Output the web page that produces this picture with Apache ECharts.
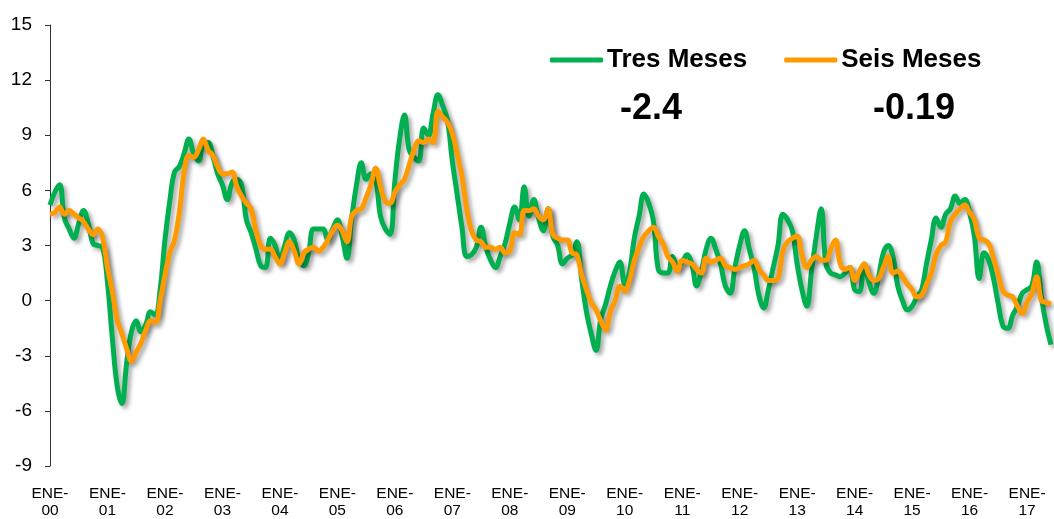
<!DOCTYPE html>
<html>
<head>
<meta charset="utf-8">
<script src="https://cdn.jsdelivr.net/npm/echarts@6/dist/echarts.min.js"></script>
<style>
html,body{margin:0;padding:0;background:#fff;}
#c{width:1054px;height:519px;}
</style>
</head>
<body>
<div id="c"></div>
<script>
var monthNames = ['ENE','FEB','MAR','ABR','MAY','JUN','JUL','AGO','SEP','OCT','NOV','DIC'];
var years = ['00','01','02','03','04','05','06','07','08','09','10','11','12','13','14','15','16','17'];
var lastMonthCount = 6; // ENE-17 .. JUN-17

var tresMeses = [
  5.2, 5.9, 6.3, 4.5, 3.9, 3.4, 4.2, 4.9, 4.2, 3.1, 3.0, 2.9,
  1.0, -2.0, -4.6, -5.6, -3.4, -1.7, -1.1, -1.7, -1.3, -0.6, -0.8, 0.6,
  3.3, 5.4, 7.0, 7.3, 8.0, 8.8, 8.0, 7.6, 8.5, 8.6, 7.9, 6.9,
  6.3, 5.5, 6.4, 6.6, 6.3, 4.4, 3.7, 2.8, 1.9, 1.8, 3.4, 3.0,
  2.2, 3.0, 3.7, 3.3, 2.2, 1.9, 2.6, 3.9, 3.9, 3.9, 3.3, 3.9,
  4.4, 3.5, 2.3, 4.5, 6.3, 7.5, 6.6, 6.9, 6.6, 4.6, 3.9, 3.6,
  6.5, 8.8, 10.1, 8.2, 7.8, 7.6, 9.4, 9.0, 10.2, 11.2, 10.6, 9.8,
  7.6, 5.8, 4.0, 2.4, 2.5, 2.9, 4.0, 2.9, 2.2, 1.8, 2.4, 3.1,
  4.2, 5.1, 4.4, 6.2, 4.6, 5.5, 4.5, 3.8, 5.0, 3.5, 3.0, 2.0,
  2.3, 2.5, 3.2, 1.2, -0.6, -1.8, -2.7, -1.0, -0.2, 0.8, 1.6, 2.1,
  0.9, 1.6, 3.4, 4.6, 5.8, 5.3, 4.3, 1.7, 1.5, 1.5, 2.4, 1.8,
  2.1, 2.5, 2.0, 0.8, 1.6, 2.8, 3.4, 2.8, 2.0, 0.8, 0.4, 1.8,
  3.0, 3.8, 2.8, 1.8, 0.3, -0.4, 0.6, 1.8, 3.0, 4.7, 4.4, 3.8,
  2.0, 0.6, -0.3, 1.6, 3.5, 5.0, 2.0, 1.5, 1.4, 1.3, 1.5, 1.8,
  0.6, 0.5, 2.0, 1.0, 0.4, 1.3, 2.6, 3.0, 2.4, 0.8, 0.0, -0.5,
  -0.3, 0.2, 0.6, 2.0, 3.3, 4.5, 4.0, 4.7, 5.0, 5.7, 5.3, 5.5,
  4.8, 3.5, 1.2, 2.6, 2.2, 1.2, -0.2, -1.4, -1.5, -0.8, -0.3, 0.4,
  0.6, 0.8, 2.1, 0.2, -1.3, -2.4
];

var seisMeses = [
  4.7, 4.8, 5.1, 4.7, 4.9, 4.7, 4.5, 4.3, 3.9, 3.6, 3.9, 3.4,
  1.8, 0.5, -1.0, -1.8, -2.6, -3.3, -2.8, -2.3, -1.6, -1.1, -1.2, 0.0,
  1.4, 2.6, 3.3, 4.8, 7.0, 7.9, 7.8, 8.2, 8.8, 8.2, 7.9, 7.3,
  6.9, 6.9, 7.0, 6.2, 5.7, 5.3, 5.0, 3.8, 3.0, 2.8, 2.8, 2.4,
  2.0, 2.6, 3.2, 2.7, 2.0, 2.6, 2.8, 2.9, 2.7, 2.9, 3.3, 3.8,
  4.1, 3.8, 3.2, 4.6, 4.9, 5.0, 5.6, 6.3, 7.2, 6.2, 5.4, 5.3,
  5.9, 6.3, 6.6, 7.4, 8.2, 8.7, 8.6, 8.8, 8.6, 10.3, 10.0, 9.7,
  9.1, 8.0, 6.8, 5.0, 3.8, 3.3, 3.2, 2.9, 2.9, 2.8, 2.9, 2.6,
  2.7, 3.7, 3.6, 4.9, 4.9, 5.0, 4.6, 4.4, 5.0, 3.6, 3.4, 3.3,
  3.3, 2.6, 2.5, 1.4, 0.6, -0.1, -0.5, -1.1, -1.6, -0.6, 0.0, 0.8,
  0.5, 1.1, 2.2, 2.9, 3.5, 3.8, 4.0, 3.5, 3.1, 2.4, 2.1, 1.6,
  2.2, 2.1, 2.0, 1.7, 1.5, 2.3, 2.1, 2.2, 2.3, 1.9, 1.8, 1.7,
  1.8, 1.9, 2.0, 2.2, 1.7, 1.4, 1.1, 1.1, 1.2, 2.7, 3.2, 3.4,
  3.5, 2.5, 1.8, 2.2, 2.4, 2.2, 2.2, 2.8, 3.3, 2.0, 1.7, 1.8,
  1.1, 1.6, 2.0, 1.4, 1.1, 1.2, 1.8, 2.4, 1.5, 1.6, 1.3, 0.9,
  0.6, 0.2, 0.3, 0.9, 1.5, 2.5, 3.0, 3.2, 4.3, 4.7, 5.0, 5.2,
  4.8, 4.4, 3.4, 3.3, 3.1, 2.3, 1.4, 0.5, 0.3, 0.2, -0.3, -0.7,
  -0.1, 0.4, 1.3, 0.0, -0.1, -0.19
];

var seriesNames = ['Tres Meses', 'Seis Meses'];
var lastValues = ['-2.4', '-0.19'];
var yTicks = { min: -9, max: 15, step: 3 };

var categories = [];
for (var y = 0; y < years.length; y++) {
  var n = (y === years.length - 1) ? lastMonthCount : 12;
  for (var m = 0; m < n; m++) categories.push(monthNames[m] + '-' + years[y]);
}

var chart = echarts.init(document.getElementById('c'));
var shadow = { shadowColor: 'rgba(0,0,0,0.35)', shadowBlur: 4, shadowOffsetX: 3, shadowOffsetY: 3 };

chart.setOption({
  animation: false,
  backgroundColor: '#ffffff',
  grid: { left: 50, right: 3, top: 25, bottom: 49 },
  legend: {
    data: seriesNames,
    left: 550, top: 47,
    padding: 0,
    itemWidth: 53, itemHeight: 5, itemGap: 37,
    icon: 'roundRect',
    textStyle: { fontFamily: 'Liberation Sans, Arial, sans-serif', fontSize: 26, fontWeight: 'bold', color: '#000', padding: [0,0,0,-1] }
  },
  graphic: [
    { type: 'text', left: 620, top: 91, style: { text: lastValues[0], font: 'bold 36px "Liberation Sans", Arial, sans-serif', fill: '#000' } },
    { type: 'text', left: 873, top: 91, style: { text: lastValues[1], font: 'bold 36px "Liberation Sans", Arial, sans-serif', fill: '#000' } }
  ],
  xAxis: {
    type: 'category',
    data: categories,
    boundaryGap: false,
    axisLine: { show: false },
    axisTick: { show: false },
    axisLabel: {
      interval: function (i) { return i % 12 === 0; },
      formatter: function (v) { return v.replace('-', '-\n'); },
      fontFamily: 'Liberation Sans, Arial, sans-serif',
      fontSize: 15.5, lineHeight: 17, color: '#000', margin: 19
    }
  },
  yAxis: {
    type: 'value',
    min: yTicks.min, max: yTicks.max, interval: yTicks.step,
    splitLine: { show: false },
    axisLine: { show: true, lineStyle: { color: '#333', width: 1 } },
    axisTick: { show: true, inside: false, length: 5, lineStyle: { color: '#333' } },
    axisLabel: { fontFamily: 'Liberation Sans, Arial, sans-serif', fontSize: 19, color: '#000', margin: 18 }
  },
  series: [
    {
      name: seriesNames[0], type: 'line', data: tresMeses, smooth: 0.4, symbol: 'none',
      itemStyle: { color: '#00B050' },
      lineStyle: Object.assign({ color: '#00B050', width: 5 }, shadow),
      z: 2
    },
    {
      name: seriesNames[1], type: 'line', data: seisMeses, smooth: 0.4, symbol: 'none',
      itemStyle: { color: '#FF9A00' },
      lineStyle: Object.assign({ color: '#FF9A00', width: 5 }, shadow),
      z: 3
    }
  ]
});
</script>
</body>
</html>
